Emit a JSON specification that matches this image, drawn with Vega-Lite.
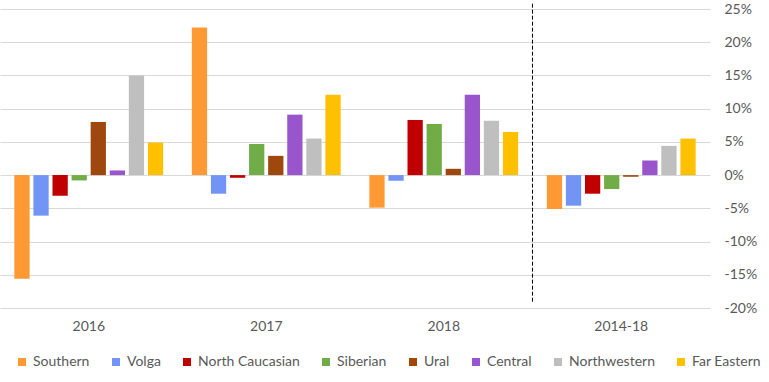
{
  "$schema": "https://vega.github.io/schema/vega-lite/v6.json",
  "width": 710,
  "height": 299,
  "autosize": {"type": "none"},
  "padding": {"left": 0, "top": 9, "right": 59, "bottom": 74},
  "config": {"view": {"stroke": null}, "font": "Lato"},
  "data": {"values": [
    {"period": "2016", "region": "Southern", "value": -15.6},
    {"period": "2016", "region": "Volga", "value": -6.1},
    {"period": "2016", "region": "North Caucasian", "value": -3.1},
    {"period": "2016", "region": "Siberian", "value": -0.8},
    {"period": "2016", "region": "Ural", "value": 8.0},
    {"period": "2016", "region": "Central", "value": 0.7},
    {"period": "2016", "region": "Northwestern", "value": 15.0},
    {"period": "2016", "region": "Far Eastern", "value": 4.9},
    {"period": "2017", "region": "Southern", "value": 22.2},
    {"period": "2017", "region": "Volga", "value": -2.8},
    {"period": "2017", "region": "North Caucasian", "value": -0.4},
    {"period": "2017", "region": "Siberian", "value": 4.7},
    {"period": "2017", "region": "Ural", "value": 2.9},
    {"period": "2017", "region": "Central", "value": 9.1},
    {"period": "2017", "region": "Northwestern", "value": 5.5},
    {"period": "2017", "region": "Far Eastern", "value": 12.1},
    {"period": "2018", "region": "Southern", "value": -4.9},
    {"period": "2018", "region": "Volga", "value": -0.85},
    {"period": "2018", "region": "North Caucasian", "value": 8.3},
    {"period": "2018", "region": "Siberian", "value": 7.7},
    {"period": "2018", "region": "Ural", "value": 0.95},
    {"period": "2018", "region": "Central", "value": 12.1},
    {"period": "2018", "region": "Northwestern", "value": 8.2},
    {"period": "2018", "region": "Far Eastern", "value": 6.5},
    {"period": "2014-18", "region": "Southern", "value": -5.1},
    {"period": "2014-18", "region": "Volga", "value": -4.6},
    {"period": "2014-18", "region": "North Caucasian", "value": -2.8},
    {"period": "2014-18", "region": "Siberian", "value": -2.1},
    {"period": "2014-18", "region": "Ural", "value": -0.25},
    {"period": "2014-18", "region": "Central", "value": 2.2},
    {"period": "2014-18", "region": "Northwestern", "value": 4.4},
    {"period": "2014-18", "region": "Far Eastern", "value": 5.5}
  ]},
  "layer": [
    {
      "mark": {"type": "bar"},
      "encoding": {
        "x": {
          "field": "period", "type": "nominal",
          "sort": ["2016", "2017", "2018", "2014-18"],
          "scale": {"domain": ["2016", "2017", "2018", "2014-18"], "paddingInner": 0.14, "paddingOuter": 0.07},
          "axis": {"title": null, "domain": false, "ticks": false, "labelAngle": 0, "labelPadding": 11, "labelFontSize": 14, "labelColor": "#595959", "labelFont": "Lato"}
        },
        "xOffset": {
          "field": "region", "type": "nominal",
          "sort": ["Southern", "Volga", "North Caucasian", "Siberian", "Ural", "Central", "Northwestern", "Far Eastern"],
          "scale": {"paddingInner": 0.2, "paddingOuter": 0.1}
        },
        "y": {
          "field": "value", "type": "quantitative",
          "scale": {"domain": [-20, 25], "nice": false, "zero": false},
          "axis": {"title": null, "orient": "right", "values": [-20, -15, -10, -5, 0, 5, 10, 15, 20, 25], "labelExpr": "datum.value + '%'", "domain": false, "ticks": false, "labelPadding": 14, "labelAlign": "left", "labelFontSize": 14, "labelColor": "#595959", "gridColor": "#d9d9d9", "gridOpacity": 1, "labelFont": "Lato"}
        },
        "color": {
          "field": "region", "type": "nominal",
          "sort": ["Southern", "Volga", "North Caucasian", "Siberian", "Ural", "Central", "Northwestern", "Far Eastern"],
          "scale": {
            "domain": ["Southern", "Volga", "North Caucasian", "Siberian", "Ural", "Central", "Northwestern", "Far Eastern"],
            "range": ["#FF9933", "#7294F4", "#C00000", "#70AD47", "#9E480E", "#9955CC", "#BFBFBF", "#FFC000"]
          },
          "legend": {
            "title": null, "orient": "none", "legendX": 15, "legendY": 346, "direction": "horizontal", "columns": 8,
            "symbolType": "square", "symbolSize": 64, "symbolStrokeWidth": 0, "labelOffset": 4, "columnPadding": 19,
            "labelFontSize": 14, "labelColor": "#595959", "labelFont": "Lato"
          }
        }
      }
    },
    {
      "data": {"values": [{"period": "2014-18", "top": 25.8, "bottom": -19.3}]},
      "mark": {"type": "rule", "color": "#000000", "strokeDash": [4, 2], "strokeWidth": 1},
      "encoding": {
        "x": {"field": "period", "type": "nominal", "bandPosition": -0.0815,
          "sort": ["2016", "2017", "2018", "2014-18"],
          "scale": {"domain": ["2016", "2017", "2018", "2014-18"], "paddingInner": 0.14, "paddingOuter": 0.07},
          "axis": {"title": null, "domain": false, "ticks": false, "labelAngle": 0, "labelPadding": 11, "labelFontSize": 14, "labelColor": "#595959", "labelFont": "Lato"}
        },
        "y": {"field": "top", "type": "quantitative",
          "scale": {"domain": [-20, 25], "nice": false, "zero": false},
          "axis": {"title": null, "orient": "right", "values": [-20, -15, -10, -5, 0, 5, 10, 15, 20, 25], "labelExpr": "datum.value + '%'", "domain": false, "ticks": false, "labelPadding": 14, "labelAlign": "left", "labelFontSize": 14, "labelColor": "#595959", "gridColor": "#d9d9d9", "gridOpacity": 1, "labelFont": "Lato"}
        },
        "y2": {"field": "bottom"}
      }
    }
  ]
}
